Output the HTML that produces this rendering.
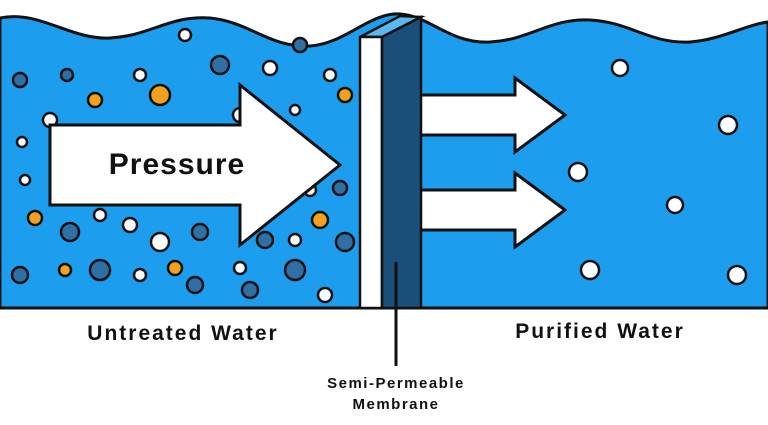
<!DOCTYPE html>
<html><head><style>body{margin:0;background:#fff}svg{display:block}</style></head><body>
<svg width="768" height="425" viewBox="0 0 768 425" xmlns="http://www.w3.org/2000/svg">
<path d="M0,18 C40,10 70,40 110,38 C150,36 170,15 210,18 C250,22 270,48 310,46 C345,44 370,12 400,14 C430,16 450,44 490,42 C530,40 550,18 590,20 C630,22 650,44 690,42 C720,40 745,25 768,22 L768,308 L0,308 Z" fill="#1c9ded" stroke="#111" stroke-width="3"/>
<line x1="0" y1="308" x2="768" y2="308" stroke="#111" stroke-width="3"/>
<g stroke="#111" stroke-width="2.5">
<circle cx="185" cy="35" r="6" fill="#fff"/><circle cx="20" cy="80" r="7" fill="#2f6fa3"/><circle cx="67" cy="75" r="6" fill="#2f6fa3"/>
<circle cx="95" cy="100" r="7" fill="#f2a020"/><circle cx="160" cy="95" r="10" fill="#f2a020"/><circle cx="140" cy="75" r="6" fill="#fff"/>
<circle cx="220" cy="65" r="9" fill="#2f6fa3"/><circle cx="270" cy="68" r="7" fill="#fff"/><circle cx="240" cy="115" r="7" fill="#fff"/>
<circle cx="300" cy="45" r="7" fill="#2f6fa3"/><circle cx="330" cy="75" r="6" fill="#fff"/><circle cx="345" cy="95" r="7" fill="#f2a020"/>
<circle cx="295" cy="110" r="5" fill="#fff"/><circle cx="50" cy="120" r="7" fill="#fff"/><circle cx="22" cy="142" r="5" fill="#fff"/>
<circle cx="25" cy="180" r="5" fill="#fff"/><circle cx="35" cy="218" r="7" fill="#f2a020"/><circle cx="70" cy="232" r="9" fill="#2f6fa3"/>
<circle cx="100" cy="215" r="6" fill="#fff"/><circle cx="130" cy="225" r="7" fill="#fff"/><circle cx="160" cy="242" r="9" fill="#fff"/>
<circle cx="200" cy="232" r="8" fill="#2f6fa3"/><circle cx="265" cy="240" r="8" fill="#2f6fa3"/><circle cx="295" cy="240" r="6" fill="#fff"/>
<circle cx="320" cy="220" r="8" fill="#f2a020"/><circle cx="345" cy="242" r="9" fill="#2f6fa3"/><circle cx="340" cy="188" r="7" fill="#2f6fa3"/>
<circle cx="310" cy="190" r="6" fill="#fff"/><circle cx="20" cy="275" r="8" fill="#2f6fa3"/><circle cx="65" cy="270" r="6" fill="#f2a020"/>
<circle cx="100" cy="270" r="10" fill="#2f6fa3"/><circle cx="140" cy="275" r="6" fill="#fff"/><circle cx="175" cy="268" r="7" fill="#f2a020"/>
<circle cx="195" cy="285" r="8" fill="#2f6fa3"/><circle cx="240" cy="268" r="6" fill="#fff"/><circle cx="295" cy="270" r="10" fill="#2f6fa3"/>
<circle cx="325" cy="295" r="7" fill="#fff"/><circle cx="250" cy="290" r="8" fill="#2f6fa3"/>
<circle cx="620" cy="68" r="8" fill="#fff"/><circle cx="728" cy="125" r="9" fill="#fff"/><circle cx="578" cy="172" r="9" fill="#fff"/>
<circle cx="675" cy="205" r="8" fill="#fff"/><circle cx="590" cy="270" r="9" fill="#fff"/><circle cx="737" cy="275" r="9" fill="#fff"/>
</g>
<path d="M50,125 L240,125 L240,85 L340,165 L240,245 L240,205 L50,205 Z" fill="#fff" stroke="#111" stroke-width="3"/>
<text x="177" y="174" text-anchor="middle" font-family="Liberation Sans, sans-serif" font-weight="bold" font-size="30" letter-spacing="1" fill="#111">Pressure</text>
<path d="M420,95 L515,95 L515,78 L565,115 L515,152 L515,135 L420,135 Z" fill="#fff" stroke="#111" stroke-width="3"/>
<path d="M420,190 L515,190 L515,173 L565,210 L515,247 L515,230 L420,230 Z" fill="#fff" stroke="#111" stroke-width="3"/>
<polygon points="360,37 382,37 421,17 400,16" fill="#5ab8f0" stroke="#111" stroke-width="2.5"/>
<rect x="360" y="37" width="22" height="271" fill="#fff" stroke="#111" stroke-width="2.5"/>
<polygon points="382,37 421,17 421,308 382,308" fill="#1a4f7a" stroke="#111" stroke-width="2.5"/>
<line x1="396" y1="262" x2="396" y2="366" stroke="#111" stroke-width="3"/>
<g font-family="Liberation Sans, sans-serif" font-weight="bold" fill="#111" text-anchor="middle">
<text x="183" y="340" font-size="21" letter-spacing="2">Untreated Water</text>
<text x="600" y="338" font-size="21" letter-spacing="2">Purified Water</text>
<text x="396" y="388" font-size="15" letter-spacing="1.5">Semi-Permeable</text>
<text x="396" y="409" font-size="15" letter-spacing="1.5">Membrane</text>
</g>
</svg>
</body></html>
